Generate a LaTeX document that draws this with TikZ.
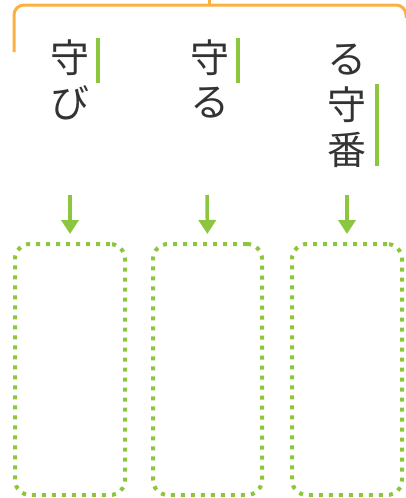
\documentclass[tikz,border=0pt]{standalone}
\usepackage{fontspec}
\newfontfamily\jp{Noto Sans CJK JP}
\usetikzlibrary{arrows.meta}
\definecolor{brorange}{HTML}{FBB040}
\definecolor{brgreen}{HTML}{8CC63F}
\begin{document}
\begin{tikzpicture}[x=1pt,y=-1pt,
  ch/.style={font=\jp\fontsize{39}{39}\selectfont, inner sep=0pt, anchor=center, text=black!80},
  bar/.style={draw=brgreen, line width=4pt},
  arr/.style={draw=brgreen, fill=brgreen, line width=3.5pt, -{Triangle[width=17pt,length=14pt]}, shorten >=8pt},
  slot/.style={draw=brgreen, line width=4pt, dash pattern=on 4pt off 6pt, rounded corners=15pt, minimum width=110pt, minimum height=251pt, inner sep=0pt},
  bracket/.style={draw=brorange, line width=3pt}]
\useasboundingbox (0,0) rectangle (405,498);

% orange bracket
\draw[bracket, rounded corners=10pt] (14,52) -- (14,5) -- (406,5) -- (406,18);
\draw[bracket] (209,5) -- (209,-2);

% column 1
\node[ch] (c1a) at (70,58) {守};
\node[ch] (c1b) at (70,103) {び};
\coordinate (g1s) at (98,38); \coordinate (g1e) at (98,83);
\draw[bar] (g1s) -- (g1e);

% column 2
\node[ch] (c2a) at (210,58) {守};
\node[ch] (c2b) at (210,103) {る};
\coordinate (g2s) at (238,38); \coordinate (g2e) at (238,83);
\draw[bar] (g2s) -- (g2e);

% column 3
\node[ch] (c3a) at (347,60) {る};
\node[ch] (c3b) at (347,105) {守};
\node[ch] (c3c) at (347,150) {番};
\coordinate (g3s) at (377,84); \coordinate (g3e) at (377,166);
\draw[bar] (g3s) -- (g3e);

% boxes
\node[slot] (box1) at (70,369.5) {};
\node[slot, minimum width=109pt] (box2) at (207.5,369.5) {};
\node[slot] (box3) at (347,369.5) {};

% arrows
\coordinate (a1) at (70,195);
\coordinate (a2) at (207,195);
\coordinate (a3) at (347,195);
\draw[arr] (a1) -- (box1.north);
\draw[arr] (a2) -- (box2.north);
\draw[arr] (a3) -- (box3.north);
\end{tikzpicture}
\end{document}
